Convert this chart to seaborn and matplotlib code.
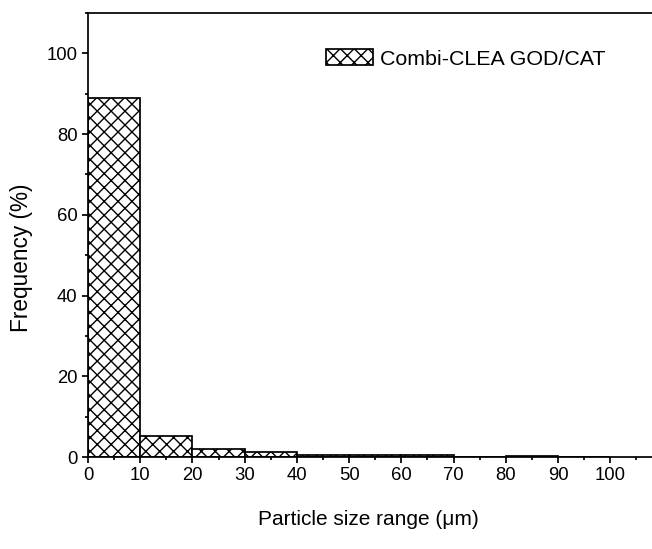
import numpy as np
import matplotlib
matplotlib.use("Agg")
import matplotlib.pyplot as plt
import seaborn as sns
from matplotlib.ticker import MultipleLocator

# particle size bins (µm) and frequency (%)
bin_edges = [0, 10, 20, 30, 40, 50, 60, 70, 80, 90, 100]
frequency = [89.0, 5.2, 2.1, 1.2, 0.5, 0.5, 0.4, 0.0, 0.2, 0.1]
series_label = "Combi-CLEA GOD/CAT"

sns.set_style("ticks", {"text.color": "black", "axes.labelcolor": "black",
                        "xtick.color": "black", "ytick.color": "black",
                        "axes.edgecolor": "black"})
plt.rcParams['font.family'] = ['Liberation Sans', 'DejaVu Sans']
plt.rcParams['hatch.linewidth'] = 0.8

dpi = 125
fig = plt.figure(figsize=(652 / dpi, 549 / dpi), dpi=dpi)
ax = fig.add_axes([88 / 652, 1 - 457 / 549, 1 - 88 / 652, (457 - 13) / 549])

centers = [(a + b) / 2 for a, b in zip(bin_edges[:-1], bin_edges[1:])]
sns.histplot(x=centers, weights=frequency, bins=bin_edges, ax=ax,
             color="white", edgecolor="black", linewidth=1.0,
             hatch="xxx", alpha=1)

ax.set_xlim(0, 108)
ax.set_ylim(0, 110)
ax.xaxis.set_major_locator(MultipleLocator(10))
ax.xaxis.set_minor_locator(MultipleLocator(5))
ax.yaxis.set_major_locator(MultipleLocator(20))
ax.yaxis.set_minor_locator(MultipleLocator(10))
ax.tick_params(which="major", direction="out", length=3.5, width=1,
               labelsize=10.7, pad=2.5, colors="black")
ax.tick_params(which="minor", direction="out", length=2, width=1,
               colors="black")

for s in ["left", "bottom", "top"]:
    ax.spines[s].set_linewidth(1.0)
    ax.spines[s].set_color("black")
ax.spines["right"].set_visible(False)

ax.set_xlabel("Particle size range (\u03bcm)", fontsize=12, color="black")
ax.set_ylabel("Frequency (%)", fontsize=13, color="black")
ax.xaxis.set_label_coords(0.498, -0.12)
ax.yaxis.set_label_coords(-0.0975, 0.449)

ax.legend([ax.patches[0]], [series_label], loc="center left",
          bbox_to_anchor=(326 / 652, 1 - 59 / 549),
          bbox_transform=fig.transFigure, frameon=False, fontsize=12.3,
          borderpad=0, borderaxespad=0, labelcolor="black",
          handlelength=2.2, handleheight=0.75, handletextpad=0.33)

fig.savefig("out.png", dpi=dpi)
